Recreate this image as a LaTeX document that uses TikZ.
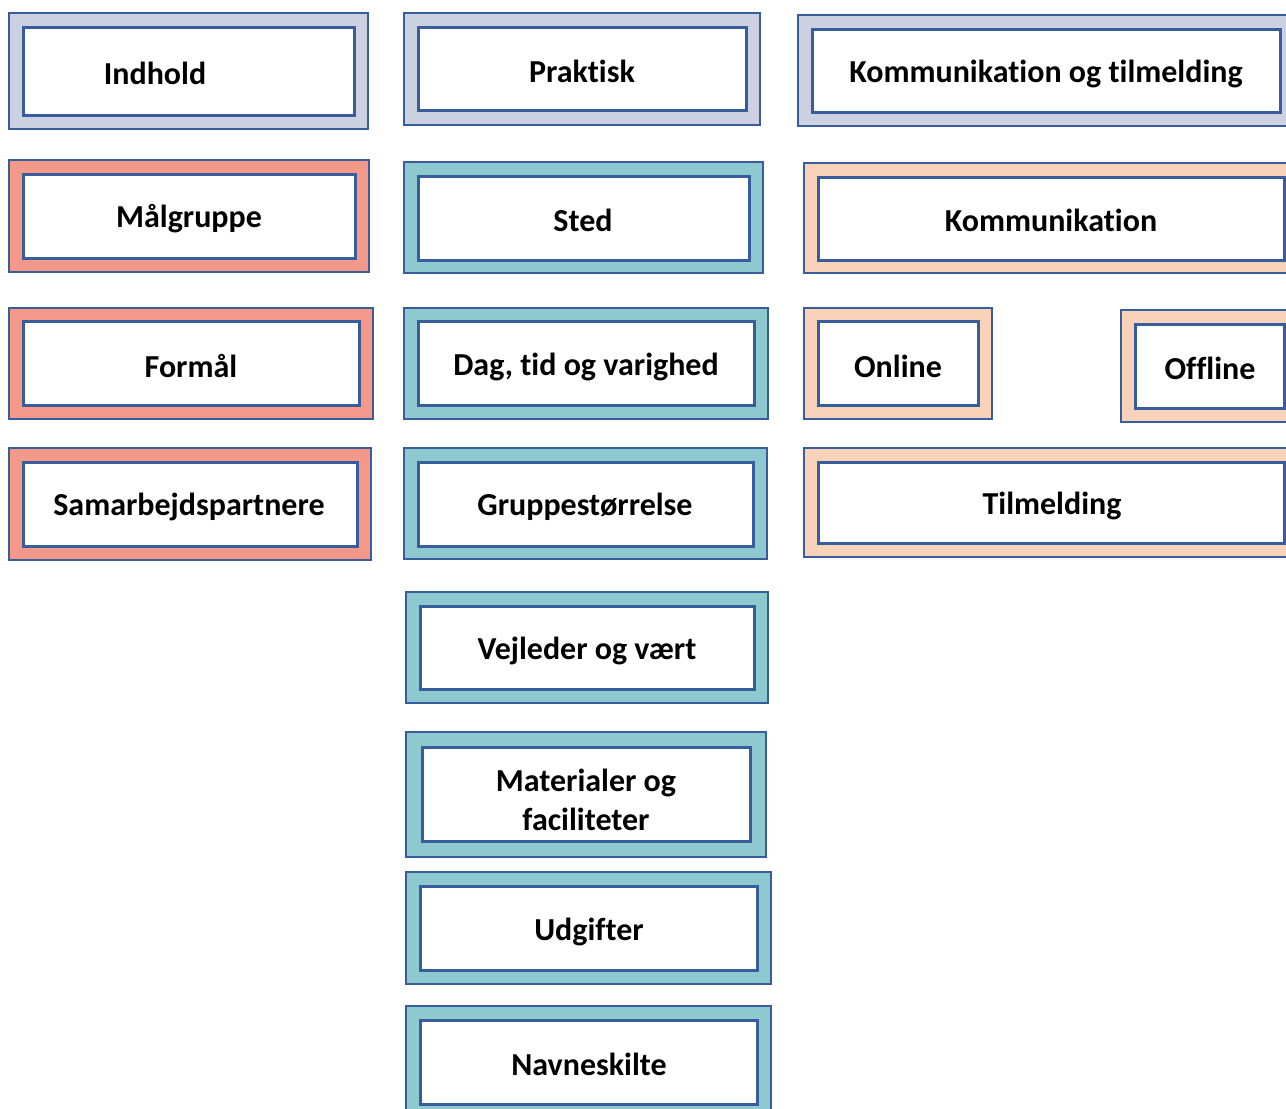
\documentclass[tikz,border=0pt]{standalone}
\usepackage{fontspec}
\setmainfont{Carlito}[RawFeature={-liga;-calt;-clig;-dlig}]
\definecolor{edge}{HTML}{385D9C}
\definecolor{lav}{HTML}{CDD0E1}
\definecolor{sal}{HTML}{F4998A}
\definecolor{teal}{HTML}{8FC9D0}
\definecolor{peach}{HTML}{F8D3B9}
\tikzset{
  outerbox/.style={draw=edge, line width=2pt, inner sep=0pt, rectangle},
  innerbox/.style={draw=edge, line width=3pt, fill=white, inner sep=0pt, rectangle},
  lbl/.style={font=\bfseries\fontsize{32}{39}\selectfont, align=center, inner sep=0pt, text=black, yshift=-1.5pt}
}
\begin{document}
\begin{tikzpicture}[x=1pt,y=-1pt]
\useasboundingbox (0,0) rectangle (1286,1109);
\clip (0,0) rectangle (1286,1109);
\fill[white] (0,0) rectangle (1286,1109);
% column 1
\node[outerbox, fill=lav, minimum width=359, minimum height=116] (o1) at (188.5,71) {};
\node[innerbox, minimum width=331, minimum height=88] (i1) at (188.5,71) {};
\node[lbl] (t1) at (155,72) {Indhold};
\node[outerbox, fill=sal, minimum width=360, minimum height=112] (o2) at (189,216) {};
\node[innerbox, minimum width=332, minimum height=84] (i2) at (189,216) {};
\node[lbl] (t2) at (189,217) {Målgruppe};
\node[outerbox, fill=sal, minimum width=364, minimum height=111] (o3) at (191,363.5) {};
\node[innerbox, minimum width=336, minimum height=84] (i3) at (191,363) {};
\node[lbl] (t3) at (191,365) {Formål};
\node[outerbox, fill=sal, minimum width=362, minimum height=112] (o4) at (190,504) {};
\node[innerbox, minimum width=334, minimum height=84] (i4) at (190,504) {};
\node[lbl] (t4) at (189,505) {Samarbejdspartnere};
% column 2
\node[outerbox, fill=lav, minimum width=356, minimum height=112] (o5) at (582,69) {};
\node[innerbox, minimum width=328, minimum height=83] (i5) at (582,68.5) {};
\node[lbl] (t5) at (582,70) {Praktisk};
\node[outerbox, fill=teal, minimum width=359, minimum height=111] (o6) at (583.5,217.5) {};
\node[innerbox, minimum width=331, minimum height=84] (i6) at (583.5,218) {};
\node[lbl] (t6) at (583,219) {Sted};
\node[outerbox, fill=teal, minimum width=364, minimum height=111] (o7) at (586,363.5) {};
\node[innerbox, minimum width=336, minimum height=84] (i7) at (586,363) {};
\node[lbl] (t7) at (586,365) {Dag, tid og varighed};
\node[outerbox, fill=teal, minimum width=363, minimum height=111] (o8) at (585.5,503.5) {};
\node[innerbox, minimum width=335, minimum height=84] (i8) at (585.5,504) {};
\node[lbl] (t8) at (585,505) {Gruppestørrelse};
\node[outerbox, fill=teal, minimum width=362, minimum height=111] (o9) at (587,647.5) {};
\node[innerbox, minimum width=334, minimum height=83] (i9) at (587,647.5) {};
\node[lbl] (t9) at (587,649) {Vejleder og vært};
\node[outerbox, fill=teal, minimum width=360, minimum height=125] (o10) at (586,794.5) {};
\node[innerbox, minimum width=328, minimum height=94] (i10) at (586,794) {};
\node[lbl] (t10) at (586,798) {Materialer og\\faciliteter};
\node[outerbox, fill=teal, minimum width=365, minimum height=112] (o11) at (588.5,928) {};
\node[innerbox, minimum width=337, minimum height=84] (i11) at (588.5,928) {};
\node[lbl] (t11) at (589,930) {Udgifter};
\node[outerbox, fill=teal, minimum width=365, minimum height=114] (o12) at (588.5,1063) {};
\node[innerbox, minimum width=337, minimum height=84] (i12) at (588.5,1062) {};
\node[lbl] (t12) at (589,1063) {Navneskilte};
% column 3
\node[outerbox, fill=lav, minimum width=498, minimum height=111] (o13) at (1047,70.5) {};
\node[innerbox, minimum width=468, minimum height=83] (i13) at (1046,70.5) {};
\node[lbl] (t13) at (1046,72) {Kommunikation og tilmelding};
\node[outerbox, fill=peach, minimum width=496, minimum height=110] (o14) at (1052,218) {};
\node[innerbox, minimum width=466, minimum height=83] (i14) at (1051,218.5) {};
\node[lbl] (t14) at (1051,219) {Kommunikation};
\node[outerbox, fill=peach, minimum width=188, minimum height=111] (o15) at (898,363.5) {};
\node[innerbox, minimum width=160, minimum height=84] (i15) at (898,363) {};
\node[lbl] (t15) at (898,365) {Online};
\node[outerbox, fill=peach, minimum width=179, minimum height=112] (o16) at (1210.5,366) {};
\node[innerbox, minimum width=149, minimum height=84] (i16) at (1209.5,366) {};
\node[lbl] (t16) at (1210,367) {Offline};
\node[outerbox, fill=peach, minimum width=496, minimum height=109] (o17) at (1052,502.5) {};
\node[innerbox, minimum width=466, minimum height=81] (i17) at (1051,502.5) {};
\node[lbl] (t17) at (1052,504) {Tilmelding};
\end{tikzpicture}
\end{document}
